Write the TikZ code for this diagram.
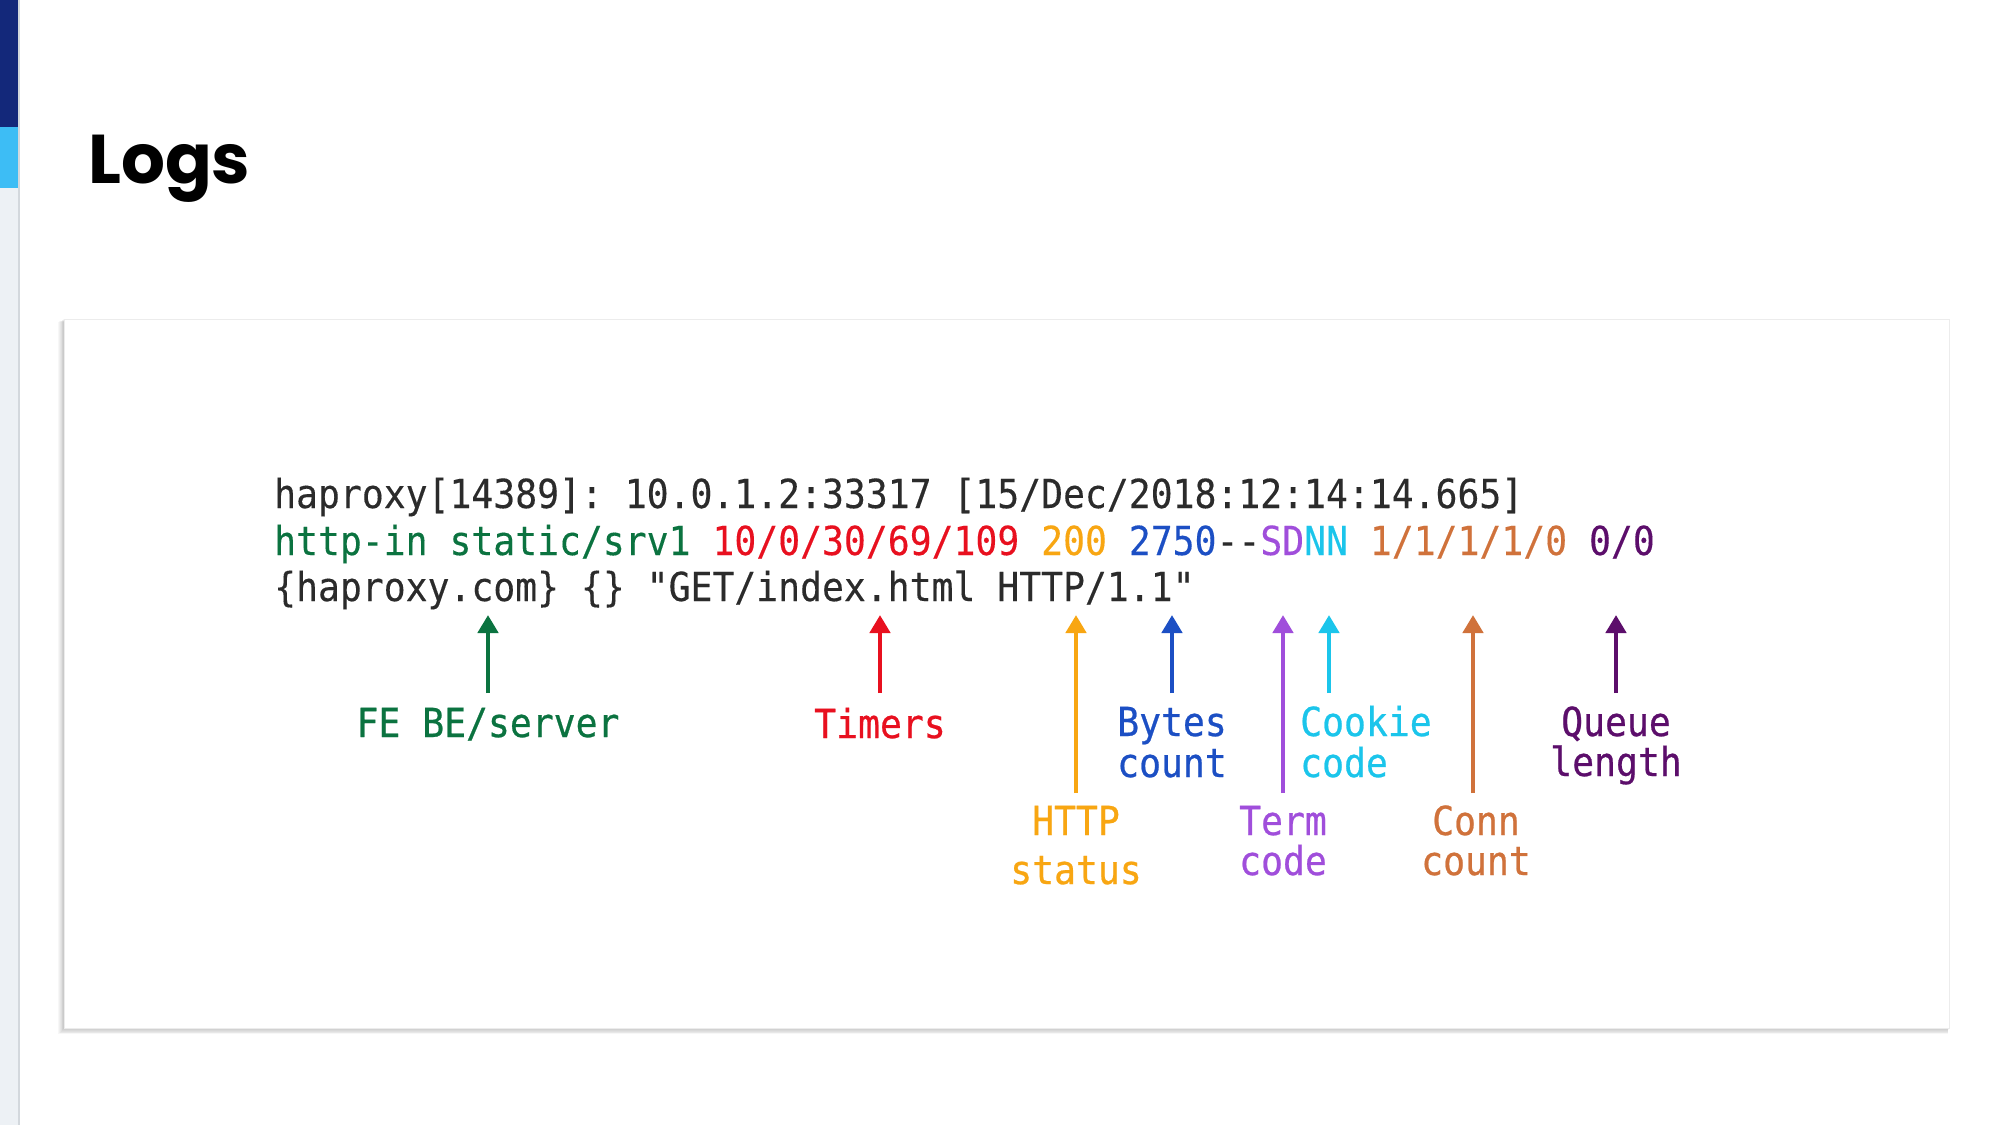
\documentclass[tikz,border=0pt]{standalone}
\usepackage{fontspec}
\usetikzlibrary{arrows.meta}
\newfontfamily\logfont[FakeStretch=0.91,FakeBold=0.25]{DejaVu Sans Mono}
\newfontfamily\labfont[FakeStretch=0.91,FakeBold=0.6]{DejaVu Sans Mono}
\newfontfamily\titlefont{Poppins}
\frenchspacing
\definecolor{navybar}{HTML}{13287A}
\definecolor{skybar}{HTML}{3DBDF5}
\definecolor{stripgrey}{HTML}{EDF1F5}
\definecolor{stripline}{HTML}{D3D8DD}
\definecolor{cardedge}{HTML}{ECECEC}
\definecolor{txtgrey}{HTML}{2B2B2B}
\definecolor{cgreen}{HTML}{0B7340}
\definecolor{cred}{HTML}{E8101F}
\definecolor{camber}{HTML}{F8A612}
\definecolor{cblue}{HTML}{1C4FC4}
\definecolor{cpurple}{HTML}{A04EDB}
\definecolor{ccyan}{HTML}{1BC5EB}
\definecolor{cbrown}{HTML}{D0723B}
\definecolor{cdpurple}{HTML}{5C0E6B}
\tikzset{
  logtext/.style={anchor=base west, inner sep=0pt, text=txtgrey, font=\logfont\fontsize{40}{46}\selectfont\frenchspacing},
  lab/.style={anchor=base, inner sep=0pt, font=\labfont\fontsize{40}{46}\selectfont},
  labl/.style={anchor=base west, inner sep=0pt, font=\labfont\fontsize{40}{46}\selectfont},
  arr/.style={line width=4.5pt, -{Triangle[width=20pt,length=18pt]}},
}
\begin{document}
\begin{tikzpicture}[x=1pt,y=-1pt]
\useasboundingbox (0,0) rectangle (2000,1125);
\fill[white] (0,0) rectangle (2000,1125);
% left strip
\fill[stripgrey] (0,0) rectangle (18,1125);
\fill[navybar] (0,0) rectangle (18,127);
\fill[skybar] (0,127) rectangle (18,188);
\draw[stripline, line width=1.5pt] (18.75,0) -- (18.75,1125);
% title
\node[anchor=base west, inner sep=0pt, font=\titlefont\bfseries\fontsize{69}{69}\selectfont] (title) at (88,183) {Logs};
% card shadow and card
\foreach \d in {1,...,7} {
  \fill[black, opacity=0.03] (64-\d*0.8,319+\d*0.4) rectangle (1949-\d*0.2,1028+\d*0.9);
}
\fill[white] (64,319) rectangle (1949,1028);
\draw[cardedge, line width=0.8pt] (64,319) rectangle (1949,1028);
% log lines
\node[logtext] (l1) at (274,508) {haproxy[14389]: 10.0.1.2:33317 [15/Dec/2018:12:14:14.665]};
\node[logtext] (l2) at (274,555) {\textcolor{cgreen}{http-in static/srv1} \textcolor{cred}{10/0/30/69/109} \textcolor{camber}{200} \textcolor{cblue}{2750}-\kern0pt-\textcolor{cpurple}{SD}\textcolor{ccyan}{NN} \textcolor{cbrown}{1/1/1/1/0} \textcolor{cdpurple}{0/0}};
\node[logtext] (l3) at (274,601) {\{haproxy.com\} \{\} "GET/index.html HTTP/1.1"};
% arrow end points
\coordinate (tgreen) at (488,615);  \coordinate (bgreen) at (488,693);
\coordinate (tred) at (880,615);    \coordinate (bred) at (880,693);
\coordinate (tamber) at (1076,615); \coordinate (bamber) at (1076,793);
\coordinate (tblue) at (1172,615);  \coordinate (bblue) at (1172,693);
\coordinate (tpurple) at (1283,615);\coordinate (bpurple) at (1283,793);
\coordinate (tcyan) at (1329,615);  \coordinate (bcyan) at (1329,693);
\coordinate (tbrown) at (1473,615); \coordinate (bbrown) at (1473,793);
\coordinate (tdpurple) at (1616,615);\coordinate (bdpurple) at (1616,693);
\draw[arr, cgreen] (bgreen) -- (tgreen);
\draw[arr, cred] (bred) -- (tred);
\draw[arr, camber] (bamber) -- (tamber);
\draw[arr, cblue] (bblue) -- (tblue);
\draw[arr, cpurple] (bpurple) -- (tpurple);
\draw[arr, ccyan] (bcyan) -- (tcyan);
\draw[arr, cbrown] (bbrown) -- (tbrown);
\draw[arr, cdpurple] (bdpurple) -- (tdpurple);
% labels
\node[lab, text=cgreen] (febe) at (488,737) {FE BE/server};
\node[lab, text=cred] (timers) at (880,738) {Timers};
\node[labl, text=cblue] (bytes1) at (1117,736) {Bytes};
\node[labl, text=cblue] (bytes2) at (1117,777) {count};
\node[labl, text=ccyan] (cookie1) at (1300,736) {Cookie};
\node[labl, text=ccyan] (cookie2) at (1300,777) {code};
\node[lab, text=cdpurple] (queue1) at (1616,736) {Queue};
\node[lab, text=cdpurple] (queue2) at (1616,776) {length};
\node[lab, text=camber] (http1) at (1076,835) {HTTP};
\node[lab, text=camber] (http2) at (1076,884) {status};
\node[lab, text=cpurple] (term1) at (1283,835) {Term};
\node[lab, text=cpurple] (term2) at (1283,875) {code};
\node[lab, text=cbrown] (conn1) at (1476,835) {Conn};
\node[lab, text=cbrown] (conn2) at (1476,875) {count};
\end{tikzpicture}
\end{document}
